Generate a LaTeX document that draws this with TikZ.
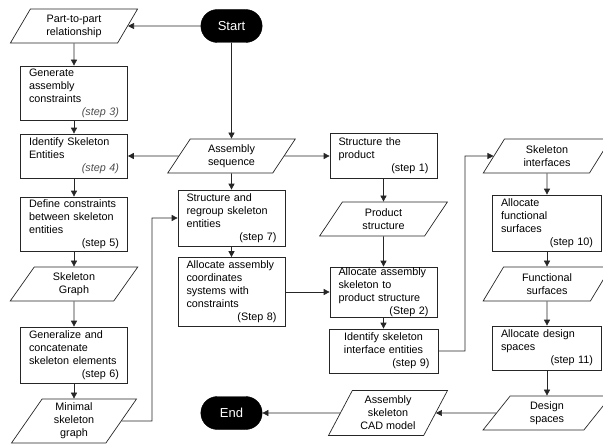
\documentclass[tikz,border=0pt]{standalone}
\usepackage{fontspec}
\setmainfont{Liberation Sans}
\usetikzlibrary{shapes.geometric,shapes.misc,arrows.meta}
\newcommand\steplbl[1]{\hspace*{\fill}#1}
\newcommand\steplblit[1]{\hspace*{\fill}{\itshape\color{black!70}#1}}
\begin{document}
\begin{tikzpicture}[x=1pt,y=-1pt,
  font=\fontsize{10.8}{13}\selectfont,
  proc/.style={draw=black!85, line width=0.7pt, rectangle, inner xsep=8.5pt, inner ysep=0pt,
    align=left, text width=90pt, minimum width=107pt},
  wide/.style={text width=92pt, minimum width=109pt},
  para/.style={draw=black!85, line width=0.7pt, trapezium, trapezium left angle=62,
    trapezium right angle=118, trapezium stretches=true, minimum width=128pt,
    minimum height=34pt, align=center, inner sep=1pt},
  term/.style={rounded rectangle, fill=black, draw=black, text=white,
    minimum width=68pt, minimum height=33pt, font=\fontsize{13}{15}\selectfont},
  arr/.style={draw=black!85, line width=0.7pt, -{Triangle[length=6pt,width=6pt]}}]
\useasboundingbox (0,0) rectangle (603,444);

% left column
\node[para] (part) at (74,26) {Part-to-part\\relationship};
\node[term] (start) at (231.5,26) {Start};
\node[proc, minimum height=54pt] (gen) at (74,93) {Generate\\assembly\\constraints\\\steplblit{(step 3)}};
\node[proc, minimum height=44pt] (ident) at (74,156) {Identify Skeleton\\Entities\\\steplblit{(step 4)}};
\node[proc, minimum height=54pt] (def) at (74,224) {Define constraints\\between skeleton\\entities\\\steplbl{(step 5)}};
\node[para] (sgraph) at (74,284) {Skeleton\\Graph};
\node[proc, minimum height=56pt] (genz) at (74,355) {Generalize and\\concatenate\\skeleton elements\\\steplbl{(step 6)}};
\node[para, minimum height=44pt, minimum width=126pt] (minimal) at (74,421) {Minimal\\skeleton\\graph};

% middle column
\node[para] (aseq) at (231.5,156) {Assembly\\sequence};
\node[proc, minimum height=56pt] (regroup) at (231.5,218) {Structure and\\regroup skeleton\\entities\\\steplbl{(step 7)}};
\node[proc, minimum height=69pt] (coords) at (231.5,292) {Allocate assembly\\coordinates\\systems with\\constraints\\\steplbl{(Step 8)}};
\node[term] (end) at (231.5,413) {End};

% third column
\node[proc, minimum height=45pt] (sprod) at (383.5,156) {Structure the\\product\\\steplbl{(step 1)}};
\node[para] (pstruct) at (383.5,219) {Product\\structure};
\node[proc, minimum height=50pt] (askel) at (383.5,292) {Allocate assembly\\skeleton to\\product structure\\\steplbl{(Step 2)}};
\node[proc, wide, minimum height=44pt, align=center] (iface) at (383.5,351) {Identify skeleton\\interface entities\\\steplbl{(step 9)}};
\node[para, minimum height=45pt, minimum width=120pt] (cad) at (388,413) {Assembly\\skeleton\\CAD model};

% right column
\node[para] (skint) at (547,156) {Skeleton\\interfaces};
\node[proc, wide, minimum height=56pt] (afunc) at (547,223) {Allocate\\functional\\surfaces\\\steplbl{(step 10)}};
\node[para] (fsurf) at (547,284) {Functional\\surfaces};
\node[proc, wide, minimum height=44pt] (adesign) at (547,348) {Allocate design\\spaces\\\steplbl{(step 11)}};
\node[para] (dspaces) at (547,413) {Design\\spaces};

\coordinate (c1) at (152,0);
\coordinate (c2) at (465,0);

% connectors
\draw[arr] (start) -- (part);
\draw[arr] (start) -- (aseq);
\draw[arr] (part) -- (gen);
\draw[arr] (gen) -- (ident);
\draw[arr] (ident) -- (def);
\draw[arr] (def) -- (sgraph);
\draw[arr] (sgraph) -- (genz);
\draw[arr] (genz) -- (minimal);
\draw[arr] (aseq) -- (ident);
\draw[arr] (aseq) -- (sprod);
\draw[arr] (aseq) -- (regroup);
\draw[arr] (regroup) -- (coords);
\draw[arr] (coords) -- (askel);
\draw[arr] (sprod) -- (pstruct);
\draw[arr] (pstruct) -- (askel);
\draw[arr] (askel) -- (iface);
\draw[arr] (minimal) -- (minimal -| c1) -- (c1 |- regroup) -- (regroup);
\draw[arr] (iface) -- (iface -| c2) -- (c2 |- skint) -- (skint);
\draw[arr] (skint) -- (afunc);
\draw[arr] (afunc) -- (fsurf);
\draw[arr] (fsurf) -- (adesign);
\draw[arr] (adesign) -- (dspaces);
\draw[arr] (dspaces) -- (cad);
\draw[arr] (cad) -- (end);
\end{tikzpicture}
\end{document}
